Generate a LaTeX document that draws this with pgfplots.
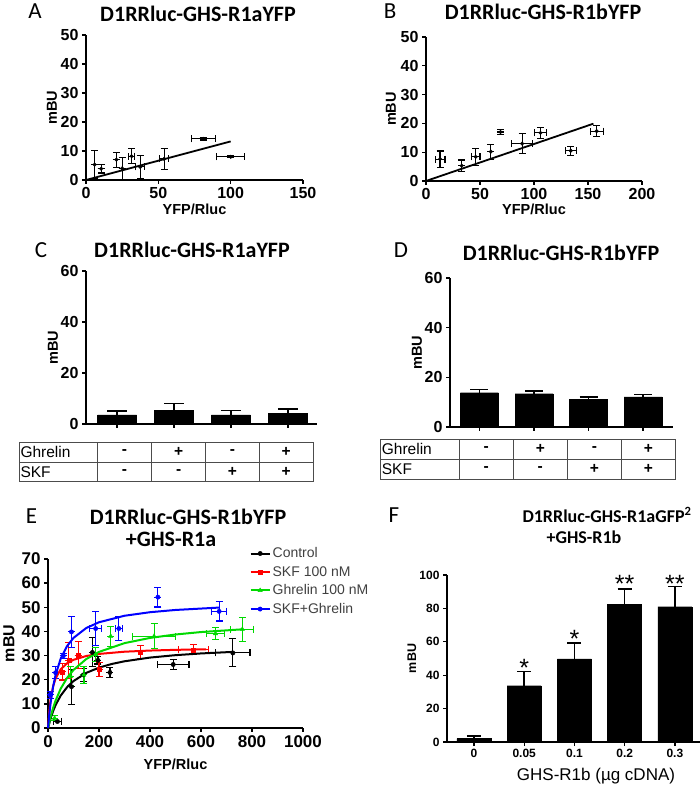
\documentclass[border=0pt]{standalone}
\usepackage{fontspec}
\setmainfont{Liberation Sans}
\newfontfamily\calfont{Carlito}
\usepackage{pgfplots}
\pgfplotsset{compat=1.18}
\pgfplotsset{
  gp/.style={scale only axis, anchor=south west, axis lines=left,
    axis line style={line width=1.5pt,-},
    every tick/.style={line width=1.3pt, black},
    major tick length=4pt, tick align=outside,
    /pgf/number format/assume math mode=true,
    /pgf/number format/1000 sep={},
    ticklabel style={font=\fontsize{16}{16}\selectfont\bfseries},
    label style={font=\fontsize{14.5}{14.5}\selectfont\bfseries},
    clip=false},
  eb/.style={error bars/.cd, x dir=both, x explicit, y dir=both, y explicit,
    error bar style={line width=1.1pt},
    error mark options={rotate=90, line width=1.1pt, mark size=3.5pt}},
}
\begin{document}
\begin{tikzpicture}[x=1pt,y=1pt]
\path[use as bounding box] (0,0) rectangle (700,786);
% ---------------- Panel A
\node[font=\calfont\fontsize{23}{23}\selectfont] at (35,775) {A};
\node[font=\calfont\bfseries\fontsize{22}{22}\selectfont] at (198,772.5) {D1RRluc-GHS-R1aYFP};
\begin{axis}[gp, at={(86pt,606pt)}, width=217pt, height=145pt,
  xmin=0, xmax=150, ymin=0, ymax=50, xtick={0,50,100,150}, ytick={0,10,...,50},
  xlabel={YFP/Rluc}, ylabel={mBU},
  xlabel style={at={(axis description cs:0.5,0)}, anchor=center, yshift=-29pt},
  ylabel style={at={(axis description cs:0,0.5)}, anchor=center, yshift=34pt}]
\addplot[black, line width=1.8pt] coordinates {(0,0) (100,13.3)};
\addplot[black, only marks, mark=*, mark size=1.8pt, eb] coordinates {
 (6,5.3) +- (0,4.8)
 (10.5,3.9) +- (0,1.5)
 (21,7) +- (0,2.6)
 (25,4) +- (0,3.7)
 (31.5,8.2) +- (2,2.6)
 (37.5,4.5) +- (3,4)
 (54,7.3) +- (3,3.6)
 (81,14.2) +- (8.3,0.4)
 (100,8) +- (9.5,0.4)
};
\end{axis}
% ---------------- Panel B
\node[font=\calfont\fontsize{23}{23}\selectfont] at (390,775) {B};
\node[font=\calfont\bfseries\fontsize{22}{22}\selectfont] at (543,774) {D1RRluc-GHS-R1bYFP};
\begin{axis}[gp, at={(426pt,605pt)}, width=216pt, height=144pt,
  xmin=0, xmax=200, ymin=0, ymax=50, xtick={0,50,100,150,200}, ytick={0,10,...,50},
  xlabel={YFP/Rluc}, ylabel={mBU},
  xlabel style={at={(axis description cs:0.5,0)}, anchor=center, yshift=-28pt},
  ylabel style={at={(axis description cs:0,0.5)}, anchor=center, yshift=35pt}]
\addplot[black, line width=1.8pt] coordinates {(0,0) (155,19.9)};
\addplot[black, only marks, mark=*, mark size=1.8pt, eb] coordinates {
 (13,7.6) +- (4.6,2.8)
 (33,5.3) +- (0,2)
 (46,8.4) +- (4,3)
 (60,10.2) +- (0,2.6)
 (69,17) +- (0,1)
 (89,13) +- (10,3.5)
 (106,16.7) +- (5.5,1.8)
 (134,10.5) +- (5,1.5)
 (158,17.3) +- (6,2)
};
\end{axis}
% ---------------- Panel C
\node[font=\calfont\fontsize{23}{23}\selectfont] at (41,536) {C};
\node[font=\calfont\bfseries\fontsize{22}{22}\selectfont] at (192,536.5) {D1RRluc-GHS-R1aYFP};
\begin{axis}[gp, at={(86pt,362pt)}, width=231pt, height=153pt,
  ybar, bar width=39pt,
  xmin=0.456, xmax=4.509, ymin=0, ymax=60, xtick={1,2,3,4}, xticklabels={},
  ytick={0,20,40,60}, ylabel={mBU},
  ylabel style={at={(axis description cs:0,0.5)}, anchor=center, yshift=33pt}]
\addplot[fill=black, draw=black, error bars/.cd, y dir=plus, y explicit,
  error bar style={line width=1.3pt}, error mark options={rotate=90, line width=1.3pt, mark size=10pt}]
 coordinates {(1,3.6) +- (0,1.5) (2,5.4) +- (0,2.7) (3,3.6) +- (0,1.6) (4,4.3) +- (0,1.6)};
\end{axis}
\begin{scope}[draw=black!70, line width=0.8pt]
\draw (19.3,343.7) rectangle (313,304.3);
\draw (19.3,323.7) -- (313,323.7);
\foreach \xx in {97.3,151.7,205.7,259.3} \draw (\xx,343.7) -- (\xx,304.3);
\end{scope}
\begin{scope}[font=\fontsize{15.5}{15.5}\selectfont]
\node[anchor=west, inner sep=1pt] at (19.3,333.7) {Ghrelin};
\node[anchor=west, inner sep=1pt] at (19.3,314) {SKF};
\node at (124.5,333.7) {\textbf{-}}; \node at (178.7,333.7) {\textbf{+}}; \node at (232.5,333.7) {\textbf{-}}; \node at (286.2,333.7) {\textbf{+}};
\node at (124.5,314) {\textbf{-}}; \node at (178.7,314) {\textbf{-}}; \node at (232.5,314) {\textbf{+}}; \node at (286.2,314) {\textbf{+}};
\end{scope}
% ---------------- Panel D
\node[font=\calfont\fontsize{23}{23}\selectfont] at (401,535.5) {D};
\node[font=\calfont\bfseries\fontsize{22}{22}\selectfont] at (561,533.5) {D1RRluc-GHS-R1bYFP};
\begin{axis}[gp, at={(450pt,359pt)}, width=223pt, height=149pt,
  ybar, bar width=38pt,
  xmin=0.459, xmax=4.55, ymin=0, ymax=60, xtick={1,2,3,4}, xticklabels={},
  ytick={0,20,40,60}, ylabel={mBU},
  ylabel style={at={(axis description cs:0,0.5)}, anchor=center, yshift=33pt}]
\addplot[fill=black, draw=black, error bars/.cd, y dir=plus, y explicit,
  error bar style={line width=1.3pt}, error mark options={rotate=90, line width=1.3pt, mark size=9pt}]
 coordinates {(1,13.8) +- (0,1.4) (2,13.4) +- (0,1.1) (3,11.0) +- (0,1.1) (4,12.1) +- (0,1.1)};
\end{axis}
\begin{scope}[draw=black!70, line width=0.8pt]
\draw (380.7,346.7) rectangle (675,306.7);
\draw (380.7,326.7) -- (675,326.7);
\foreach \xx in {459,513.3,567.3,621.7} \draw (\xx,346.7) -- (\xx,306.7);
\end{scope}
\begin{scope}[font=\fontsize{15.5}{15.5}\selectfont]
\node[anchor=west, inner sep=1pt] at (380.7,336.7) {Ghrelin};
\node[anchor=west, inner sep=1pt] at (380.7,316.7) {SKF};
\node at (486.2,336.7) {\textbf{-}}; \node at (540.3,336.7) {\textbf{+}}; \node at (594.5,336.7) {\textbf{-}}; \node at (648.4,336.7) {\textbf{+}};
\node at (486.2,316.7) {\textbf{-}}; \node at (540.3,316.7) {\textbf{-}}; \node at (594.5,316.7) {\textbf{+}}; \node at (648.4,316.7) {\textbf{+}};
\end{scope}
% ---------------- Panel E
\node[font=\calfont\fontsize{23}{23}\selectfont] at (31.5,269.5) {E};
\node[font=\calfont\bfseries\fontsize{22}{22}\selectfont] at (188,269.5) {D1RRluc-GHS-R1bYFP};
\node[font=\calfont\bfseries\fontsize{22}{22}\selectfont] at (171,246.5) {+GHS-R1a};
\begin{axis}[gp, at={(48pt,58pt)}, width=255pt, height=169pt,
  xmin=0, xmax=1000, ymin=0, ymax=70, xtick={0,200,...,1000}, ytick={0,10,...,70},
  ticklabel style={font=\fontsize{17}{17}\selectfont\bfseries},
  label style={font=\fontsize{16}{16}\selectfont\bfseries},
  xlabel={YFP/Rluc}, ylabel={mBU},
  xlabel style={font=\fontsize{14.5}{14.5}\selectfont\bfseries, at={(axis description cs:0.5,0)}, anchor=center, yshift=-36pt},
  ylabel style={at={(axis description cs:0,0.5)}, anchor=center, yshift=39pt},
  legend style={draw=none, fill=none, at={(rel axis cs:0.79,1.08)}, anchor=north west,
    font=\fontsize{14}{14}\selectfont\color{black!75}, legend cell align=left,
    row sep=3pt, inner sep=0pt},
  legend image code/.code={\draw[#1, line width=2pt] (0pt,0pt) -- (19pt,0pt);
    \draw[#1, only marks] plot coordinates {(9.5pt,0pt)};}]
\addplot[black, only marks, mark=*, mark size=2.2pt, eb] coordinates {
 (37,2.7) +- (16,0) (92,17.1) +- (0,7.2) (139,22) +- (0,2.8) (174,31.3) +- (0,6)
 (196,28) +- (0,1.5) (243,23) +- (0,2) (491,26.3) +- (62,2) (725,31.1) +- (67,5.8)};
\addlegendentry{Control}
\addplot[red, only marks, mark=square*, mark size=2pt, eb] coordinates {
 (56,23.3) +- (0,3.4) (82,28) +- (0,7.5) (118,30.2) +- (0,5.5) (200,24.3) +- (0,3)
 (363,31.5) +- (0,2.7) (570,32.4) +- (59,2)};
\addlegendentry{SKF 100 nM}
\addplot[green!85!black, only marks, mark=triangle*, mark size=2.5pt, eb] coordinates {
 (26,4.1) +- (0,1) (89,21.5) +- (0,4) (141,22) +- (0,3.5) (187,30.5) +- (0,3)
 (246,38) +- (0,4.2) (416,38) +- (84,5.1) (657,39.1) +- (35,2.4) (762,40.9) +- (45,4.9)};
\addlegendentry{Ghrelin 100 nM}
\addplot[blue, only marks, mark=*, mark size=2.2pt, eb] coordinates {
 (8,13.7) +- (0,1.5) (30,22.9) +- (0,2.5) (60,29.9) +- (0,1) (92,39.8) +- (0,6.5)
 (187,41.2) +- (23,6.9) (278,41.2) +- (15,4.8) (431,54.2) +- (0,4.1) (671,48.3) +- (29,4)};
\addlegendentry{SKF+Ghrelin}
\addplot[black, line width=2pt, forget plot] coordinates {
 (0,0) (10,3.89) (20,7.0) (30,9.55) (50,13.46) (75,16.94) (100,19.44) (150,22.83)
 (200,25.0) (250,26.52) (300,27.63) (400,29.17) (500,30.17) (600,30.88) (725,31.52)};
\addplot[red, line width=2pt, forget plot] coordinates {
 (0,0) (5,7.0) (10,11.59) (20,17.23) (30,20.57) (50,24.35) (75,26.81) (100,28.24)
 (150,29.82) (200,30.68) (300,31.6) (400,32.08) (500,32.37) (620,32.6)};
\addplot[green!85!black, line width=2pt, forget plot] coordinates {
 (0,0) (10,4.57) (20,8.31) (30,11.42) (50,16.32) (75,20.77) (100,24.05) (150,28.56)
 (200,31.52) (300,35.15) (400,37.31) (500,38.73) (600,39.74) (762,40.87)};
\addplot[blue, line width=2pt, forget plot] coordinates {
 (0,0) (5,5.64) (10,10.19) (20,17.1) (30,22.08) (50,28.8) (75,33.97) (100,37.32)
 (150,41.41) (200,43.8) (300,46.49) (400,47.96) (500,48.89) (671,49.88)};
\end{axis}
% ---------------- Panel F
\node[font=\calfont\fontsize{23}{23}\selectfont] at (394,271) {F};
\node[font=\calfont\bfseries\fontsize{18}{18}\selectfont] at (607,271) {D1RRluc-GHS-R1aGFP\textsuperscript{2}};
\node[font=\calfont\bfseries\fontsize{18}{18}\selectfont] at (584,248.5) {+GHS-R1b};
\begin{axis}[gp, at={(447pt,44pt)}, width=253pt, height=167pt,
  ybar, bar width=34pt,
  xmin=-0.537, xmax=4.5, ymin=0, ymax=100, xtick={0,1,2,3,4},
  xticklabels={0,0.05,0.1,0.2,0.3}, ytick={0,20,...,100},
  ticklabel style={font=\fontsize{12}{12}\selectfont\bfseries},
  xlabel={GHS-R1b (µg cDNA)}, ylabel={mBU},
  xlabel style={font=\fontsize{17}{17}\selectfont, at={(axis description cs:0.5,0)}, anchor=center, xshift=22.5pt, yshift=-34pt},
  ylabel style={font=\fontsize{12.5}{12.5}\selectfont\bfseries, at={(axis description cs:0,0.5)}, anchor=center, yshift=35pt}]
\addplot[fill=black, draw=black, error bars/.cd, y dir=plus, y explicit,
  error bar style={line width=1.5pt}, error mark options={rotate=90, line width=1.5pt, mark size=7pt}]
 coordinates {(0,2) +- (0,1.5) (1,33.7) +- (0,8.4) (2,49.7) +- (0,9.6) (3,82.6) +- (0,9.0) (4,81.0) +- (0,12)};
\node[font=\fontsize{25}{25}\selectfont, anchor=base] at (axis cs:1,39.3) {*};
\node[font=\fontsize{25}{25}\selectfont, anchor=base] at (axis cs:2,56.7) {*};
\node[font=\fontsize{25}{25}\selectfont, anchor=base] at (axis cs:3,89.7) {**};
\node[font=\fontsize{25}{25}\selectfont, anchor=base] at (axis cs:4,89.7) {**};
\end{axis}
\end{tikzpicture}
\end{document}
